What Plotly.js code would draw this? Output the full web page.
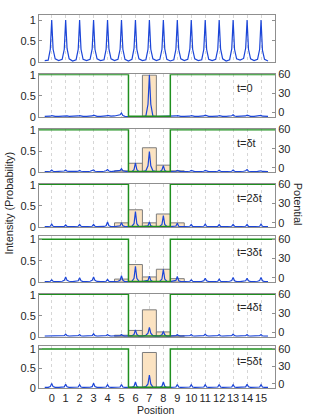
<!DOCTYPE html>
<html><head><meta charset="utf-8">
<script src="https://cdn.plot.ly/plotly-3.0.1.min.js"></script>
<style>html,body{margin:0;padding:0;background:#fff}#chart{width:314px;height:415px}</style>
</head><body><div id="chart"></div>
<script>
// ---------- data ----------
const positions = [0,1,2,3,4,5,6,7,8,9,10,11,12,13,14,15];
const X = [-0.5,-0.25,-0.1,0,0.1,0.25, 0.5,0.75,0.9,1,1.1,1.25, 1.5,1.75,1.9,2,2.1,2.25, 2.5,2.75,2.9,3,3.1,3.25,
  3.5,3.75,3.9,4,4.1,4.25, 4.5,4.75,4.9,5,5.1,5.25, 5.5,5.75,5.9,6,6.1,6.25, 6.5,6.75,6.9,7,7.1,7.25,
  7.5,7.75,7.9,8,8.1,8.25, 8.5,8.75,8.9,9,9.1,9.25, 9.5,9.75,9.9,10,10.1,10.25, 10.5,10.75,10.9,11,11.1,11.25,
  11.5,11.75,11.9,12,12.1,12.25, 12.5,12.75,12.9,13,13.1,13.25, 13.5,13.75,13.9,14,14.1,14.25, 14.5,14.75,14.9,15,15.1,15.25, 15.5];

// intensity, top panel (lattice)
const I1 = [0.03,0.04,0.3,1.0,0.3,0.07, 0.03,0.06,0.3,1.0,0.32,0.07, 0.02,0.05,0.3,1.0,0.3,0.06, 0.03,0.06,0.31,1.0,0.3,0.07,
  0.03,0.05,0.3,1.0,0.31,0.07, 0.03,0.06,0.3,1.0,0.3,0.06, 0.02,0.06,0.32,1.0,0.3,0.07, 0.03,0.05,0.3,1.0,0.3,0.07,
  0.03,0.06,0.3,1.0,0.31,0.06, 0.02,0.05,0.3,1.0,0.3,0.07, 0.03,0.06,0.31,1.0,0.3,0.07, 0.03,0.05,0.3,1.0,0.3,0.06,
  0.03,0.06,0.3,1.0,0.31,0.07, 0.02,0.05,0.31,1.0,0.3,0.07, 0.04,0.08,0.33,1.0,0.3,0.07, 0.03,0.06,0.3,1.0,0.28,0.06, 0.02];
// t=0
const I2 = [0.01,0.01,0.015,0.03,0.015,0.01, 0.01,0.015,0.02,0.035,0.02,0.01, 0.01,0.01,0.02,0.03,0.015,0.01, 0.01,0.015,0.02,0.04,0.02,0.01,
  0.01,0.01,0.02,0.035,0.02,0.015, 0.02,0.03,0.05,0.09,0.03,0.01, 0.005,0.005,0.005,0.01,0.005,0.005, 0.005,0.02,0.3,1.0,0.3,0.02,
  0.005,0.005,0.005,0.01,0.005,0.005, 0.01,0.01,0.02,0.03,0.015,0.01, 0.01,0.01,0.015,0.03,0.015,0.01, 0.01,0.015,0.02,0.04,0.02,0.01,
  0.01,0.01,0.015,0.03,0.015,0.01, 0.01,0.015,0.025,0.05,0.02,0.01, 0.01,0.01,0.02,0.04,0.02,0.01, 0.01,0.015,0.02,0.035,0.015,0.01, 0.01];
// t=δt
const I3 = [0.01,0.015,0.02,0.05,0.02,0.01, 0.01,0.02,0.025,0.05,0.02,0.015, 0.01,0.015,0.02,0.04,0.02,0.01, 0.01,0.02,0.03,0.05,0.02,0.015,
  0.01,0.02,0.03,0.06,0.025,0.01, 0.02,0.03,0.04,0.08,0.03,0.02, 0.005,0.01,0.06,0.22,0.06,0.01, 0.01,0.03,0.15,0.49,0.15,0.03,
  0.01,0.01,0.05,0.15,0.04,0.01, 0.01,0.015,0.02,0.04,0.02,0.01, 0.01,0.015,0.02,0.04,0.02,0.01, 0.01,0.015,0.02,0.04,0.02,0.01,
  0.01,0.02,0.02,0.045,0.02,0.01, 0.01,0.015,0.02,0.05,0.02,0.01, 0.01,0.02,0.03,0.06,0.02,0.01, 0.01,0.015,0.02,0.03,0.015,0.01, 0.01];
// t=2δt
const I4 = [0.01,0.01,0.02,0.07,0.02,0.01, 0.01,0.01,0.015,0.05,0.015,0.01, 0.01,0.01,0.02,0.06,0.02,0.01, 0.01,0.01,0.02,0.06,0.02,0.01,
  0.01,0.015,0.03,0.12,0.03,0.01, 0.01,0.02,0.03,0.1,0.03,0.01, 0.01,0.02,0.08,0.37,0.08,0.01, 0.01,0.015,0.03,0.12,0.03,0.01,
  0.01,0.02,0.06,0.27,0.06,0.015, 0.01,0.015,0.025,0.09,0.02,0.01, 0.01,0.01,0.02,0.06,0.015,0.01, 0.01,0.01,0.02,0.07,0.02,0.01,
  0.01,0.01,0.015,0.06,0.015,0.01, 0.01,0.01,0.02,0.06,0.02,0.01, 0.01,0.01,0.02,0.06,0.015,0.01, 0.01,0.01,0.02,0.07,0.02,0.01, 0.01];
// t=3δt
const I5 = [0.01,0.01,0.02,0.05,0.02,0.01, 0.01,0.02,0.04,0.12,0.04,0.02, 0.01,0.015,0.03,0.1,0.03,0.01, 0.01,0.02,0.04,0.12,0.04,0.015,
  0.01,0.01,0.02,0.06,0.02,0.01, 0.01,0.02,0.04,0.15,0.04,0.01, 0.01,0.02,0.09,0.37,0.09,0.02, 0.01,0.02,0.04,0.14,0.04,0.01,
  0.01,0.02,0.07,0.3,0.07,0.02, 0.01,0.02,0.04,0.13,0.03,0.01, 0.01,0.01,0.02,0.05,0.02,0.01, 0.01,0.015,0.03,0.09,0.03,0.01,
  0.01,0.01,0.02,0.07,0.02,0.01, 0.01,0.02,0.035,0.11,0.03,0.01, 0.01,0.015,0.03,0.09,0.03,0.01, 0.01,0.02,0.035,0.11,0.03,0.01, 0.01];
// t=4δt
const I6 = [0.01,0.01,0.015,0.025,0.015,0.01, 0.01,0.015,0.02,0.055,0.02,0.01, 0.01,0.01,0.02,0.045,0.015,0.01, 0.01,0.015,0.02,0.065,0.02,0.01,
  0.01,0.01,0.02,0.045,0.02,0.01, 0.01,0.015,0.02,0.045,0.02,0.01, 0.01,0.02,0.05,0.16,0.05,0.01, 0.01,0.03,0.08,0.22,0.08,0.02,
  0.01,0.015,0.04,0.12,0.04,0.01, 0.01,0.01,0.02,0.045,0.02,0.01, 0.01,0.01,0.02,0.045,0.015,0.01, 0.01,0.015,0.02,0.055,0.02,0.01,
  0.01,0.01,0.02,0.045,0.015,0.01, 0.01,0.015,0.02,0.055,0.02,0.01, 0.01,0.01,0.02,0.045,0.015,0.01, 0.01,0.01,0.02,0.045,0.015,0.01, 0.01];
// t=5δt
const I7 = [0.01,0.01,0.03,0.11,0.03,0.01, 0.01,0.01,0.025,0.09,0.025,0.01, 0.01,0.01,0.02,0.08,0.02,0.01, 0.01,0.015,0.03,0.12,0.03,0.01,
  0.01,0.01,0.02,0.08,0.02,0.01, 0.01,0.01,0.02,0.085,0.02,0.01, 0.01,0.015,0.04,0.15,0.04,0.01, 0.01,0.03,0.1,0.33,0.1,0.02,
  0.01,0.015,0.04,0.15,0.04,0.01, 0.01,0.01,0.02,0.085,0.02,0.01, 0.01,0.01,0.02,0.08,0.02,0.01, 0.01,0.01,0.02,0.08,0.02,0.01,
  0.01,0.01,0.02,0.085,0.02,0.01, 0.01,0.01,0.02,0.08,0.02,0.01, 0.01,0.01,0.025,0.09,0.025,0.01, 0.01,0.01,0.02,0.08,0.02,0.01, 0.01];

// site occupation probabilities (bars)
const barPos2 = [7],         barH2 = [1.0];
const barPos3 = [5,6,7,8,9], barH3 = [0.03,0.21,0.58,0.165,0.03];
const barPos4 = [5,6,7,8,9], barH4 = [0.10,0.41,0.10,0.31,0.10];
const barPos5 = [5,6,7,8,9], barH5 = [0.07,0.41,0.12,0.30,0.08];
const barPos6 = [5,6,7,8,9], barH6 = [0.03,0.145,0.64,0.11,0.02];
const barPos7 = [7],         barH7 = [0.91];

// potential (square well)
const potX = [-0.91,5.5,5.5,8.5,8.5,16];
const potY = [60,60,-6,-6,60,60];

const tLabels = ['t=0','t=δt','t=2δt','t=3δt','t=4δt','t=5δt'];
const leftTicks = [0,0.5,1], leftTickText = ['0','0.5','1'];
const rightTicks = [0,30,60];

// ---------- build ----------
const intens = [I1,I2,I3,I4,I5,I6,I7];
const barsP = [null,barPos2,barPos3,barPos4,barPos5,barPos6,barPos7];
const barsH = [null,barH2,barH3,barH4,barH5,barH6,barH7];

const domains = [[0.8753,1],[0.7294,0.8427],[0.5828,0.6968],[0.4369,0.5517],[0.2910,0.4138],[0.1467,0.2599],[0.0106,0.1220]];
const leftR = [[-0.005,1.12],[-0.005,1.02],[-0.005,1.02],[-0.005,1.02],[-0.005,1.077],[-0.005,1.02],[-0.005,1.077]];
const rightR = [null,[-7.2,60.5],[-7.2,60.5],[-7.2,60.5],[-7.2,65.1],[-7.2,60.5],[-7.2,65.1]];

const FONT = {family:'Liberation Sans, Arial, sans-serif', size:11, color:'#262626'};
const AX = '#8f8f8f';
const BLUE = '#1b45d8', GREEN = '#1f8f1f';

const traces = [];
const layout = {
  width:314, height:415,
  margin:{l:39, r:39, t:15, b:23},
  paper_bgcolor:'#fff', plot_bgcolor:'#fff',
  showlegend:false, font:FONT,
  annotations:[], bargap:0
};

for (let i=0;i<7;i++){
  const n = i+1;
  const xs = n===1?'':String(n);
  const xid = 'x'+xs, yid = 'y'+xs;
  layout['xaxis'+xs] = {
    domain:[0,1], anchor:yid, range:[-0.91,16],
    tickvals:positions, ticktext:positions.map(String),
    showticklabels: n===7, ticks:'', tickangle:0,
    showgrid:true, gridcolor:'#d6d6d6', griddash:'dot', gridwidth:1,
    showline:true, mirror:true, linecolor:AX, linewidth:1, zeroline:false,
    tickfont:FONT, fixedrange:true
  };
  if (n!==1) layout['xaxis'+xs].matches = 'x';
  layout['yaxis'+xs] = {
    domain:domains[i], anchor:xid, range:leftR[i],
    tickvals:leftTicks, ticktext:leftTickText,
    ticks:'inside', ticklen:3, tickcolor:AX,
    showgrid:false, zeroline:false, showline:true, linecolor:AX, linewidth:1,
    mirror: n===1 ? 'ticks' : false,
    tickfont:FONT, fixedrange:true
  };
  if (n>1){
    traces.push({type:'bar', x:barsP[i], y:barsH[i], xaxis:xid, yaxis:yid, width:1,
      marker:{color:'#fbe3c2', line:{color:'#7d7d7d', width:1}}, hoverinfo:'skip'});
  }
  traces.push({type:'scatter', mode:'lines', x:X, y:intens[i], xaxis:xid, yaxis:yid,
    line:{color:BLUE, width:1.2}, hoverinfo:'skip'});
  if (n>1){
    const ry = 'y'+(n+6);
    layout['yaxis'+(n+6)] = {
      overlaying:yid, side:'right', anchor:xid, range:rightR[i],
      tickvals:rightTicks, ticks:'inside', ticklen:3, tickcolor:AX,
      showgrid:false, zeroline:false, showline:true, linecolor:AX, linewidth:1,
      tickfont:FONT, fixedrange:true
    };
    traces.push({type:'scatter', mode:'lines', x:potX, y:potY, xaxis:xid, yaxis:ry,
      line:{color:GREEN, width:1.5}, hoverinfo:'skip'});
    layout.annotations.push({xref:xid, yref:yid, x:13.1, y:0.7, xanchor:'left', yanchor:'middle',
      text:tLabels[i-1], showarrow:false, font:FONT});
  }
}

layout.annotations.push(
  {xref:'paper', yref:'paper', x:-0.131, y:0.50, text:'Intensity (Probability)', textangle:-90,
   showarrow:false, font:FONT, xanchor:'center', yanchor:'middle'},
  {xref:'paper', yref:'paper', x:1.097, y:0.497, text:'Potential', textangle:90,
   showarrow:false, font:FONT, xanchor:'center', yanchor:'middle'},
  {xref:'paper', yref:'paper', x:0.496, y:-0.047, text:'Position', borderpad:0,
   showarrow:false, font:{family:FONT.family, size:10.5, color:FONT.color}, xanchor:'center', yanchor:'middle'}
);

Plotly.newPlot('chart', traces, layout, {staticPlot:true, displayModeBar:false});
</script>
</body></html>
